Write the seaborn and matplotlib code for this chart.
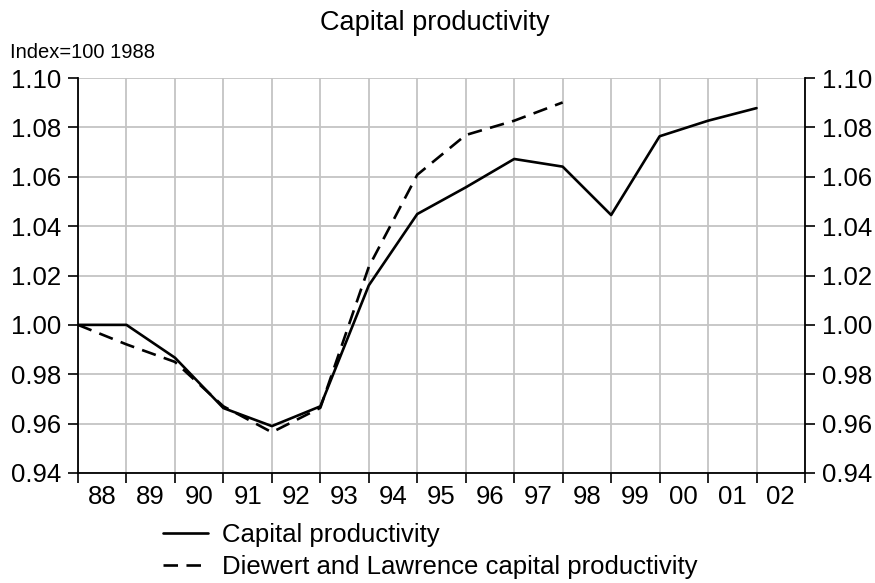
import matplotlib
matplotlib.use("Agg")
import matplotlib.pyplot as plt
import seaborn as sns
import pandas as pd
import numpy as np

# Series (index, 1988 = 1.00)
years = ["88", "89", "90", "91", "92", "93", "94", "95", "96", "97",
         "98", "99", "00", "01", "02"]
capital_productivity = [1.000, 1.000, 0.9867, 0.9663, 0.959, 0.967, 1.016,
                        1.0449, 1.0557, 1.0672, 1.0641, 1.0445, 1.0764,
                        1.0827, 1.0878]
diewert_lawrence = [1.000, 0.9921, 0.985, 0.967, 0.9565, 0.9664, 1.0235,
                    1.0608, 1.0769, 1.0827, 1.0901]
y_ticks = [0.94, 0.96, 0.98, 1.00, 1.02, 1.04, 1.06, 1.08, 1.10]

sns.set_theme(style="white")
plt.rcParams["font.family"] = ["Liberation Sans", "DejaVu Sans"]
plt.rcParams["text.color"] = "black"
plt.rcParams["xtick.color"] = "black"
plt.rcParams["ytick.color"] = "black"
plt.rcParams["axes.labelcolor"] = "black"

fig = plt.figure(figsize=(8.75, 5.83), dpi=100)
ax = fig.add_axes([78 / 875, 1 - 473 / 583, (805 - 78) / 875, (473 - 78) / 583])

df_cap = pd.DataFrame({"x": np.arange(len(capital_productivity)),
                       "y": capital_productivity})
df_dl = pd.DataFrame({"x": np.arange(len(diewert_lawrence)),
                      "y": diewert_lawrence})

sns.lineplot(data=df_cap, x="x", y="y", ax=ax, color="black", lw=1.9,
             label="Capital productivity")
sns.lineplot(data=df_dl, x="x", y="y", ax=ax, color="black", lw=1.9,
             dashes=False, label="Diewert and Lawrence capital productivity")
ax.lines[1].set_dashes((5.5, 3.2))

ax.set_xlim(0, len(years))
ax.set_ylim(0.94, 1.10)
ax.set_xlabel("")
ax.set_ylabel("")

# Category boundaries carry ticks and grid; labels sit between them
ax.set_xticks(np.arange(0, len(years) + 1))
ax.set_xticklabels([])
ax.set_xticks(np.arange(len(years)) + 0.5, minor=True)
ax.set_xticklabels(years, minor=True, fontsize=18.5)
ax.tick_params(axis="x", which="major", direction="out", length=7,
               width=1.2, color="black", bottom=True)
ax.tick_params(axis="x", which="minor", length=0, pad=9, labelcolor="black")

ax.set_yticks(y_ticks)
ax.set_yticklabels([f"{v:.2f}" for v in y_ticks], fontsize=18.5)
ax.tick_params(axis="y", direction="out", length=7, width=1.2,
               color="black", left=True, right=True,
               labelleft=True, labelright=True, pad=5, labelcolor="black")

ax.grid(True, which="major", color="#c4c4c4", lw=1.3)
ax.set_axisbelow(True)

for side in ("left", "right", "bottom"):
    ax.spines[side].set_visible(True)
    ax.spines[side].set_color("black")
    ax.spines[side].set_linewidth(1.3)
ax.spines["top"].set_visible(False)

handles, labels = ax.get_legend_handles_labels()
ax.get_legend().remove()
fig.legend(handles, labels, loc="upper left",
           bbox_to_anchor=(163 / 875, 1 - 523 / 583), frameon=False,
           fontsize=18.5, handlelength=1.75, handletextpad=0.55,
           labelspacing=0.32, borderaxespad=0, borderpad=0,
           labelcolor="black")

fig.text(435 / 875, 1 - 23 / 583, "Capital productivity", fontsize=19.5,
         ha="center", va="center", color="black")
fig.text(10 / 875, 1 - 52 / 583, "Index=100 1988", fontsize=14.5,
         ha="left", va="center", color="black")

fig.savefig("out.png", dpi=100)
